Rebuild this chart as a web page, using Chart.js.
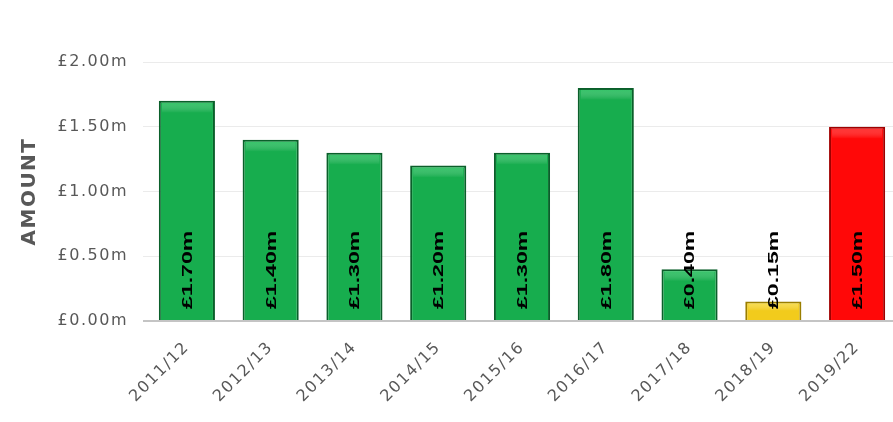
<!DOCTYPE html>
<html>
<head>
<meta charset="utf-8">
<script src="https://cdn.jsdelivr.net/npm/chart.js@4/dist/chart.umd.min.js"></script>
<style>
  html, body { margin: 0; padding: 0; background: #fff; overflow: hidden; }
  #wrap { width: 905px; height: 422px; }
</style>
</head>
<body>
<div id="wrap"><canvas id="chart"></canvas></div>
<script>
// dados
const anos = ["2011/12", "2012/13", "2013/14", "2014/15", "2015/16", "2016/17", "2017/18", "2018/19", "2019/22"];
const valores = [1.70, 1.40, 1.30, 1.20, 1.30, 1.80, 0.40, 0.15, 1.50];
const rotulos = ["£1.70m", "£1.40m", "£1.30m", "£1.20m", "£1.30m", "£1.80m", "£0.40m", "£0.15m", "£1.50m"];
const ticksY = [0, 0.5, 1.0, 1.5, 2.0];

// cores por barra
const corVerde = { fill: "#17ad4e", dark: "#0a5f2a", light: "#5fe08c" };
const corAmarela = { fill: "#f2cb1c", dark: "#9a7e00", light: "#fff08a" };
const corVermelha = { fill: "#ff0808", dark: "#a00000", light: "#ff6a6a" };
const coresBarras = [corVerde, corVerde, corVerde, corVerde, corVerde, corVerde, corVerde, corAmarela, corVermelha];

const cinza = "#585858";
const fonte = "'DejaVu Sans', Verdana, sans-serif";

// gradiente horizontal para dar o efeito 3D
const gradiente = (context) => {
	const chart = context.chart;
	const el = context.element;
	const cor = coresBarras[context.dataIndex];
	if (!el || !chart.chartArea) return cor.fill;
	const { x, width } = el.getProps(["x", "width"], true);
	if (!width) return cor.fill;
	const g = chart.ctx.createLinearGradient(x - width / 2, 0, x + width / 2, 0);
	g.addColorStop(0, cor.dark);
	g.addColorStop(0.1, cor.fill);
	g.addColorStop(0.9, cor.fill);
	g.addColorStop(1, cor.dark);
	return g;
};

// espaçamento entre letras (o original parece esticado)
const espacamento = {
	id: "espacamento",
	beforeLayout: (chart) => { chart.ctx.letterSpacing = "1.5px"; },
	beforeDraw: (chart) => { chart.ctx.letterSpacing = "1.5px"; },
};

// brilho no topo + rótulos verticais dentro das barras
const rotulosBarras = {
	id: "rotulosBarras",
	afterDatasetsDraw: (chart) => {
		const ctx = chart.ctx;
		const meta = chart.getDatasetMeta(0);
		meta.data.forEach((bar, i) => {
			const cor = coresBarras[i];
			const h = bar.base - bar.y;
			// faixa clara no topo
			ctx.save();
			const alt = Math.min(10, h / 2 - 2);
			const gy = ctx.createLinearGradient(0, bar.y + 2, 0, bar.y + 2 + alt);
			gy.addColorStop(0, cor.light);
			gy.addColorStop(1, "rgba(255,255,255,0)");
			ctx.globalAlpha = 0.45;
			ctx.fillStyle = gy;
			ctx.fillRect(bar.x - bar.width / 2 + 3, bar.y + 2, bar.width - 6, alt);
			ctx.restore();

			ctx.save();
			ctx.letterSpacing = "0px";
			ctx.translate(bar.x, bar.base - 11);
			ctx.rotate(-Math.PI / 2);
			ctx.scale(1.65, 1);
			ctx.font = "bold 14px 'Liberation Sans', Arial, sans-serif";
			ctx.fillStyle = "#000";
			ctx.textAlign = "left";
			ctx.textBaseline = "middle";
			ctx.fillText(rotulos[i], 0, 1);
			ctx.restore();
		});
	},
};

const ctx = document.getElementById("chart").getContext("2d");
new Chart(ctx, {
	type: "bar",
	data: {
		labels: anos,
		datasets: [
			{
				data: valores,
				backgroundColor: gradiente,
				borderColor: coresBarras.map((c) => c.dark),
				borderWidth: 2,
				barPercentage: 0.67,
				categoryPercentage: 1,
			},
		],
	},
	options: {
		responsive: true,
		maintainAspectRatio: false,
		animation: false,
		layout: { padding: { top: 62, right: 6, left: 0, bottom: 0 } },
		plugins: {
			legend: { display: false },
			tooltip: { enabled: false },
		},
		scales: {
			y: {
				min: 0,
				max: 2,
				afterFit: (scale) => { scale.width = 145; },
				afterBuildTicks: (scale) => { scale.ticks = ticksY.map((v) => ({ value: v })); },
				ticks: {
					color: cinza,
					font: { family: fonte, size: 16 },
					padding: 15,
					callback: (v) => "£" + Number(v).toFixed(2) + "m",
				},
				grid: {
					color: (c) => (c.tick && c.tick.value === 0 ? "#c4c4c4" : "#ebebeb"),
					lineWidth: (c) => (c.tick && c.tick.value === 0 ? 2 : 1),
					tickLength: 2,
				},
				border: { display: false },
				title: {
					display: true,
					text: "AMOUNT",
					color: cinza,
					font: { family: fonte, size: 20, weight: "bold" },
					padding: { top: 18, bottom: 0 },
				},
			},
			x: {
				afterFit: (scale) => { scale.height = 101; },
				grid: { display: false },
				border: { display: false },
				ticks: {
					color: cinza,
					font: { family: fonte, size: 16 },
					minRotation: 45,
					maxRotation: 45,
					padding: 9,
				},
			},
		},
	},
	plugins: [espacamento, rotulosBarras],
});
</script>
</body>
</html>
